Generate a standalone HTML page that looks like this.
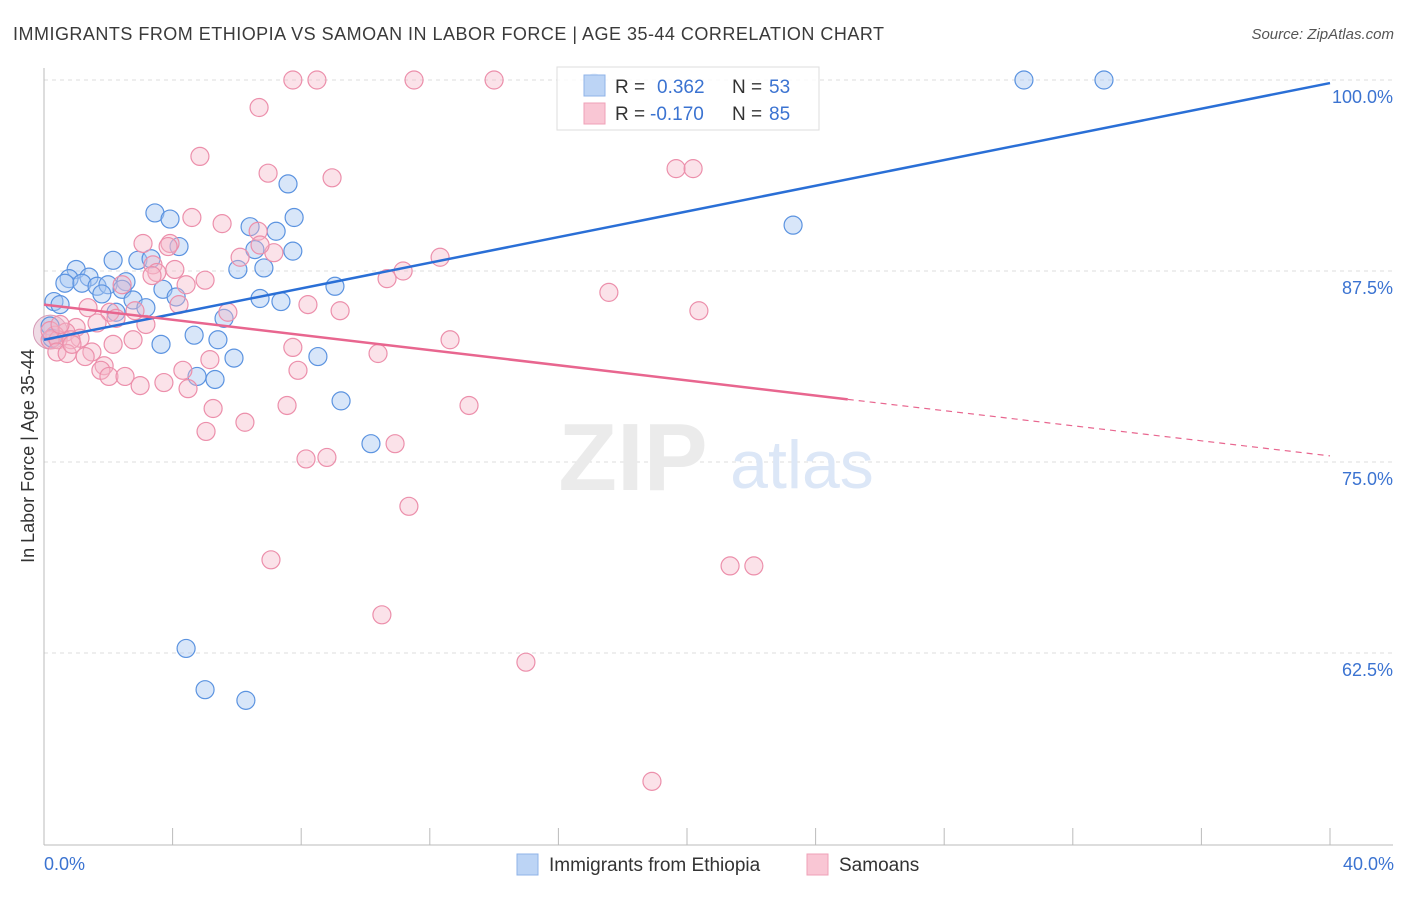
<!DOCTYPE html>
<html><head><meta charset="utf-8">
<style>
body{margin:0;background:#fff;font-family:"Liberation Sans",sans-serif;}
svg text{font-family:"Liberation Sans",sans-serif;}
</style></head>
<body>
<svg id="chart" width="1406" height="892" viewBox="0 0 1406 892" xmlns="http://www.w3.org/2000/svg">
<text x="13" y="40" font-size="18" fill="#3a3a3a" textLength="871" lengthAdjust="spacing">IMMIGRANTS FROM ETHIOPIA VS SAMOAN IN LABOR FORCE | AGE 35-44 CORRELATION CHART</text>
<text x="1394" y="39" font-size="15" fill="#555" text-anchor="end" font-style="italic">Source: ZipAtlas.com</text>
<g id="grid"></g>
<g>
<text x="633" y="490" font-size="96" fill="#ebebeb" text-anchor="middle" font-family="Liberation Serif" font-weight="bold">ZIP</text>
<text x="802" y="488" font-size="68" fill="#dce7f7" text-anchor="middle">atlas</text>
</g>
<g id="axes"></g>
<g id="pts"></g>
<g id="lines"></g>
<text transform="translate(34,456) rotate(-90)" font-size="18" fill="#333" text-anchor="middle">In Labor Force | Age 35-44</text>
<g>
<rect x="557" y="67" width="262" height="63" fill="#fff" fill-opacity="0.85" stroke="#ddd"/>
<rect x="584" y="75" width="21" height="21" fill="#bcd4f5" stroke="#8fb3e8"/>
<rect x="584" y="103" width="21" height="21" fill="#f9c6d4" stroke="#efa0b7"/>
<text x="615" y="93" font-size="19" fill="#333">R =</text>
<text x="657" y="93" font-size="19" fill="#3b73d1">0.362</text>
<text x="732" y="93" font-size="19" fill="#333">N =</text>
<text x="769" y="93" font-size="19" fill="#3b73d1">53</text>
<text x="615" y="120" font-size="19" fill="#333">R =</text>
<text x="650" y="120" font-size="19" fill="#3b73d1">-0.170</text>
<text x="732" y="120" font-size="19" fill="#333">N =</text>
<text x="769" y="120" font-size="19" fill="#3b73d1">85</text>
</g>
<g>
<rect x="517" y="854" width="21" height="21" fill="#bcd4f5" stroke="#8fb3e8"/>
<text x="549" y="871" font-size="19" fill="#333">Immigrants from Ethiopia</text>
<rect x="807" y="854" width="21" height="21" fill="#f9c6d4" stroke="#efa0b7"/>
<text x="839" y="871" font-size="19" fill="#333">Samoans</text>
</g>
</svg>
<script>
const yTicks=[100,87.5,75,62.5];
const yTickLabels=["100.0%","87.5%","75.0%","62.5%"];
const xTickLabels=["0.0%","40.0%"];
const ethX=[30.48,32.97,17.11,7.59,3.45,3.92,7.78,23.30,6.41,7.22,4.20,6.56,7.74,2.15,2.92,3.33,6.03,6.84,1.00,0.78,1.40,0.65,1.18,1.65,1.99,2.55,9.05,1.80,2.43,3.70,4.11,6.72,7.37,0.31,0.50,2.77,3.17,2.24,5.60,0.19,0.25,4.67,5.41,3.64,8.52,5.91,4.76,5.32,9.24,10.17,4.42,5.01,6.28];
const ethY=[100,100,99.8,93.2,91.3,90.9,91.0,90.5,90.4,90.1,89.1,88.9,88.8,88.2,88.2,88.3,87.6,87.7,87.6,87.0,87.1,86.7,86.7,86.5,86.6,86.8,86.5,86.0,86.3,86.3,85.8,85.7,85.5,85.5,85.3,85.6,85.1,84.8,84.4,83.9,83.1,83.3,83.0,82.7,81.9,81.8,80.6,80.4,79.0,76.2,62.8,60.1,59.4];
const samX=[7.74,8.49,11.51,14.0,6.69,4.85,6.97,8.96,19.66,20.19,4.60,5.54,6.66,3.08,3.92,3.86,7.15,6.10,3.39,4.07,3.51,10.67,11.17,12.32,3.36,5.01,4.42,2.43,17.57,4.20,8.21,9.21,20.37,5.72,1.37,2.05,2.24,1.65,3.17,1.00,0.68,0.34,0.19,1.12,0.44,0.84,2.77,2.15,12.63,7.74,1.49,0.40,0.72,1.28,5.16,10.39,1.87,4.32,1.77,7.90,2.02,2.52,3.73,2.99,4.48,5.26,7.56,13.22,5.04,6.25,10.92,8.15,8.80,11.35,7.06,10.51,21.34,22.08,14.99,18.91,0.19,0.50,0.87,2.83,6.72];
const samY=[100,100,100,100,98.2,95.0,93.9,93.6,94.2,94.2,91.0,90.6,90.1,89.3,89.3,89.1,88.7,88.4,87.9,87.6,87.4,87.0,87.5,88.4,87.2,86.9,86.6,86.6,86.1,85.3,85.3,84.9,84.9,84.8,85.1,84.8,84.4,84.1,84.0,83.8,83.5,83.3,83.0,83.1,83.0,83.0,83.0,82.7,83.0,82.5,82.2,82.2,82.1,81.9,81.7,82.1,81.3,81.0,81.0,81.0,80.6,80.6,80.2,80.0,79.8,78.5,78.7,78.7,77.0,77.6,76.2,75.2,75.3,72.1,68.6,65.0,68.2,68.2,61.9,54.1,83.6,84.0,82.7,84.9,89.2];
const ethTrend=[[0,83.0],[40,99.8]];
const samTrendSolid=[[0,85.3],[25,79.1]];
const samTrendDash=[[25,79.1],[40,75.4]];

const NS="http://www.w3.org/2000/svg";
const sx=v=>44+v*32.15;
const sy=v=>80+(100-v)*15.28;
function mk(tag,attrs,parent){const e=document.createElementNS(NS,tag);for(const k in attrs)e.setAttribute(k,attrs[k]);parent.appendChild(e);return e;}
const grid=document.getElementById('grid'),axes=document.getElementById('axes'),pts=document.getElementById('pts'),lines=document.getElementById('lines');
yTicks.forEach((t,i)=>{
 const l=mk('line',{x1:44,x2:1393,y1:sy(t),y2:sy(t),stroke:'#ddd','stroke-dasharray':'4,4'},grid);
 
 
 const tx=mk('text',{x:1393,y:sy(t)+23,'font-size':18,fill:'#3b73d1','text-anchor':'end'},grid);
 tx.textContent=yTickLabels[i];
 
 
});
const ax=mk('line',{x1:44,x2:1393,y1:845,y2:845,stroke:'#bbb'},axes);


const ay=mk('line',{x1:44,x2:44,y1:68,y2:845,stroke:'#bbb'},axes);


for(let i=0;i<=10;i++){
 const t=mk('line',{x1:sx(i*4),x2:sx(i*4),y1:828,y2:845,stroke:'#bbb'},axes);
 
 
}
const xl0=mk('text',{x:44,y:870,'font-size':18,fill:'#3b73d1'},axes);
xl0.textContent=xTickLabels[0];


const xl1=mk('text',{x:1394,y:870,'font-size':18,fill:'#3b73d1','text-anchor':'end'},axes);
xl1.textContent=xTickLabels[1];



const big=mk('circle',{cx:sx(0.2),cy:sy(83.5),r:17,fill:'#e0b8cc','fill-opacity':0.5,stroke:'#d59ab6'},pts);


ethX.forEach((x,i)=>{
 const c=mk('circle',{cx:sx(x),cy:sy(ethY[i]),r:9,fill:'#a9c8f2','fill-opacity':0.45,stroke:'#5b93e0','stroke-width':1.2},pts);
 
 
});
samX.forEach((x,i)=>{
 const c=mk('circle',{cx:sx(x),cy:sy(samY[i]),r:9,fill:'#f6b6c8','fill-opacity':0.4,stroke:'#ec8fab','stroke-width':1.2},pts);
 
 
});
const l1=mk('line',{x1:sx(ethTrend[0][0]),y1:sy(ethTrend[0][1]),x2:sx(ethTrend[1][0]),y2:sy(ethTrend[1][1]),stroke:'#2a6fd6','stroke-width':2.5},lines);


const l2=mk('line',{x1:sx(samTrendSolid[0][0]),y1:sy(samTrendSolid[0][1]),x2:sx(samTrendSolid[1][0]),y2:sy(samTrendSolid[1][1]),stroke:'#e8668f','stroke-width':2.5},lines);


const l3=mk('line',{x1:sx(samTrendDash[0][0]),y1:sy(samTrendDash[0][1]),x2:sx(samTrendDash[1][0]),y2:sy(samTrendDash[1][1]),stroke:'#e8668f','stroke-width':1.2,'stroke-dasharray':'6,5'},lines);


</script>
</body></html>
